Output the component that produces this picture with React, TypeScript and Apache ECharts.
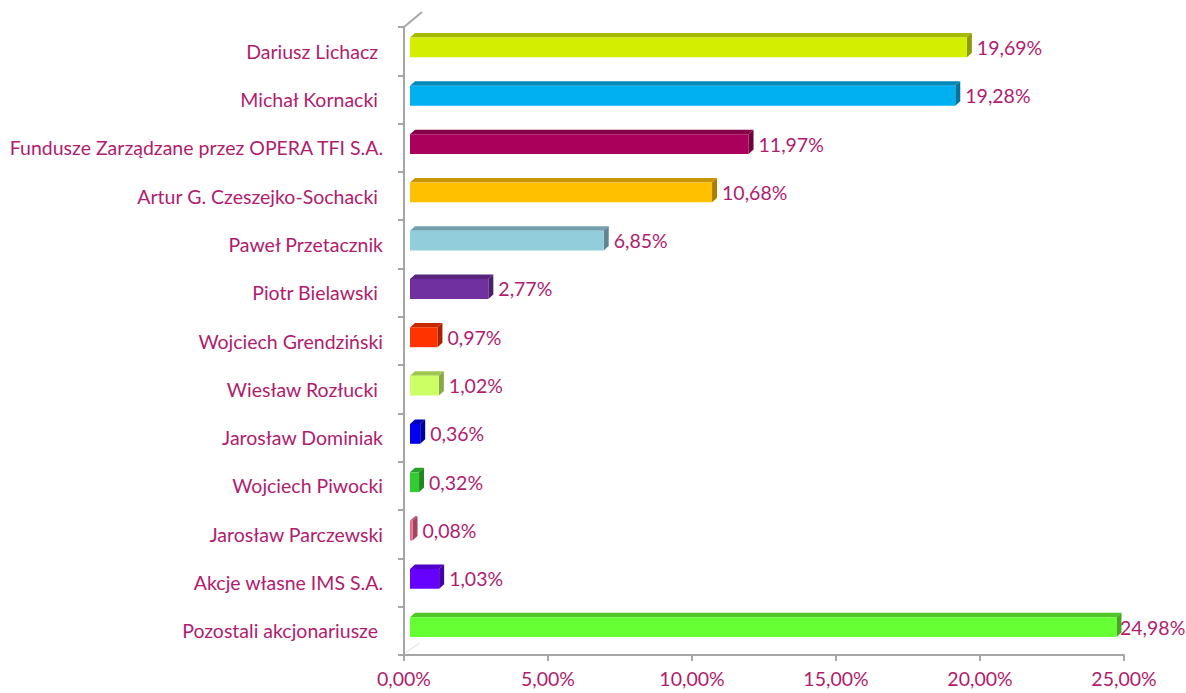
import React, { useEffect, useRef } from "react";
import * as echarts from "echarts";

const categories = [
  "Dariusz Lichacz ",
  "Michał Kornacki ",
  "Fundusze Zarządzane przez OPERA TFI S.A.",
  "Artur G. Czeszejko-Sochacki ",
  "Paweł Przetacznik",
  "Piotr Bielawski ",
  "Wojciech Grendziński",
  "Wiesław Rozłucki ",
  "Jarosław Dominiak",
  "Wojciech Piwocki",
  "Jarosław Parczewski",
  "Akcje własne IMS S.A.",
  "Pozostali akcjonariusze ",
];

const values = [19.69, 19.28, 11.97, 10.68, 6.85, 2.77, 0.97, 1.02, 0.36, 0.32, 0.08, 1.03, 24.98];

const barColors = [
  "#D4EE00",
  "#00B0F0",
  "#AA005C",
  "#FFC000",
  "#92CDDC",
  "#7030A0",
  "#FF3300",
  "#CCFF66",
  "#0000F0",
  "#33CC33",
  "#F06890",
  "#6600FF",
  "#66FF33",
];

const xMin = 0;
const xMax = 25;
const xInterval = 5;

const TEXT_COLOR = "#B01C6E";
const AXIS_COLOR = "#A6A6A6";
const FONT = "Lato, 'Noto Sans', sans-serif";
const FONT_SIZE = 19.5;

function shade(hex: string, f: number): string {
  const n = parseInt(hex.slice(1), 16);
  const r = Math.round(((n >> 16) & 255) * f);
  const g = Math.round(((n >> 8) & 255) * f);
  const b = Math.round((n & 255) * f);
  return `rgb(${r},${g},${b})`;
}

function fmt(v: number): string {
  return v.toFixed(2).replace(".", ",") + "%";
}

export default function App() {
  const ref = useRef<HTMLDivElement>(null);

  useEffect(() => {
    if (!ref.current) return;
    const chart = echarts.init(ref.current, undefined, { renderer: "svg" });
    const data = values.map((v, i) => [v, i]);

    const option: any = {
      animation: false,
      backgroundColor: "#FFFFFF",
      grid: { left: 404, right: 62, top: 27, bottom: 38, containLabel: false },
      xAxis: {
        type: "value",
        min: xMin,
        max: xMax,
        interval: xInterval,
        splitLine: { show: false },
        axisLine: { show: true, lineStyle: { color: AXIS_COLOR, width: 2 } },
        axisTick: { show: true, length: 6, lineStyle: { color: AXIS_COLOR, width: 2 } },
        axisLabel: {
          formatter: (v: number) => fmt(v),
          color: TEXT_COLOR,
          fontSize: FONT_SIZE,
          fontFamily: FONT,
          margin: 13,
        },
      },
      yAxis: {
        type: "category",
        data: categories,
        inverse: true,
        axisLine: { show: true, lineStyle: { color: AXIS_COLOR, width: 2 } },
        axisTick: { show: true, length: 6, lineStyle: { color: AXIS_COLOR, width: 2 } },
        axisLabel: {
          color: TEXT_COLOR,
          fontSize: FONT_SIZE,
          fontFamily: FONT,
          margin: 21,
        },
        splitLine: { show: false },
      },
      graphic: [
        {
          type: "line",
          shape: { x1: 404, y1: 27, x2: 422, y2: 12 },
          style: { stroke: AXIS_COLOR, lineWidth: 2 },
        },
        {
          type: "line",
          shape: { x1: 405, y1: 653, x2: 420, y2: 643 },
          style: { stroke: "#E2E2E2", lineWidth: 1 },
        },
      ],
      series: [
        {
          type: "custom",
          data,
          encode: { x: 0, y: 1 },
          renderItem: (params: any, api: any) => {
            const v = api.value(0);
            const c = api.value(1);
            const p0 = api.coord([0, c]);
            const p1 = api.coord([v, c]);
            const color = barColors[params.dataIndex];
            const x = p0[0] + 6;
            const w = Math.max((p1[0] - p0[0]) * 0.982, 2.5);
            const h = 19.8;
            const fy = p0[1] - 13.6;
            const dx = 5;
            const dy = 4.5;
            const labelX = Math.min(x + w + dx + 5, api.getWidth() - 66);
            return {
              type: "group",
              children: [
                {
                  type: "polygon",
                  shape: {
                    points: [
                      [x, fy],
                      [x + dx, fy - dy],
                      [x + w + dx, fy - dy],
                      [x + w, fy],
                    ],
                  },
                  style: { fill: shade(color, 0.78) },
                },
                {
                  type: "polygon",
                  shape: {
                    points: [
                      [x + w, fy],
                      [x + w + dx, fy - dy],
                      [x + w + dx, fy + h - dy],
                      [x + w, fy + h],
                    ],
                  },
                  style: { fill: shade(color, 0.66) },
                },
                {
                  type: "rect",
                  shape: { x, y: fy, width: w, height: h },
                  style: { fill: color },
                },
                {
                  type: "text",
                  style: {
                    text: fmt(v),
                    x: labelX,
                    y: fy + h / 2,
                    fill: TEXT_COLOR,
                    fontSize: FONT_SIZE,
                    fontFamily: FONT,
                    align: "left",
                    verticalAlign: "middle",
                  },
                },
              ],
            };
          },
        },
      ],
    };

    chart.setOption(option);
    return () => chart.dispose();
  }, []);

  return (
    <div
      ref={ref}
      style={{ position: "fixed", left: 0, top: 0, width: 1186, height: 693, background: "#fff" }}
    />
  );
}
